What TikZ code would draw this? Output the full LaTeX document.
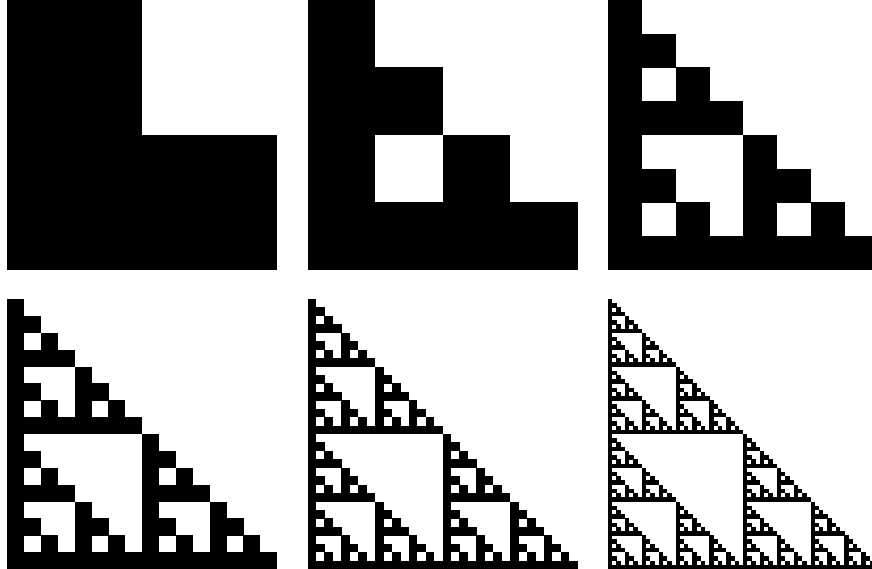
\documentclass[tikz,border=0pt]{standalone}
\usepackage{tikz}
% one black square, or the three quarters of a Sierpinski block
\newcommand\sierpcell[4]{%
  \ifnum#4=0
    \fill[black] (#1,#2) rectangle ++(#3+0.25,#3+0.25);
  \else
    \begingroup
    \pgfmathsetmacro\sx{#1}\pgfmathsetmacro\sy{#2}\pgfmathsetmacro\ssz{#3/2}
    \pgfmathsetmacro\xmid{\sx+\ssz}\pgfmathsetmacro\ymid{\sy+\ssz}
    \edef\sublvl{\the\numexpr#4-1\relax}
    \edef\next{\noexpand\sierpcell{\sx}{\sy}{\ssz}{\sublvl}%
      \noexpand\sierpcell{\sx}{\ymid}{\ssz}{\sublvl}%
      \noexpand\sierpcell{\xmid}{\ymid}{\ssz}{\sublvl}}%
    \next
    \endgroup
  \fi}
\begin{document}
\begin{tikzpicture}[x=1pt,y=-1pt]
		\useasboundingbox (0,0) rectangle (872,569);
		\clip (0,0) rectangle (872,569);
		\foreach \lvl/\px/\py in {1/7/0, 2/307.5/0, 3/608/0, 4/7/299, 5/307.5/299, 6/608/299}
		{\sierpcell{\px}{\py}{270}{\lvl}}
	\end{tikzpicture}
\end{document}
